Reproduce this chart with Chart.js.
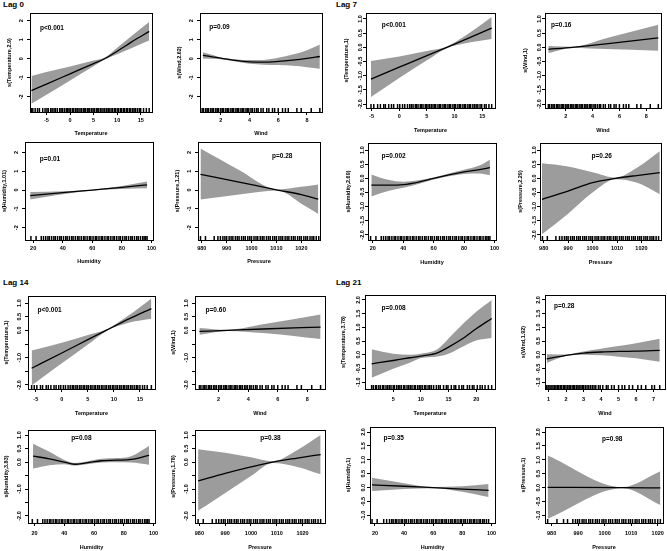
<!DOCTYPE html>
<html>
<head>
<meta charset="utf-8">
<script src="https://cdn.jsdelivr.net/npm/chart.js@4.4.1/dist/chart.umd.min.js"></script>
<style>
  body { margin: 0; background: #fff; width: 667px; height: 551px; position: relative; overflow: hidden; font-family: "Liberation Sans", Arial, sans-serif; }
  canvas { position: absolute; }
  .lag { position: absolute; font-weight: bold; font-size: 8px; line-height: 1; color: #000; }
</style>
</head>
<body>
<div class="lag" style="left:3px;top:1px">Lag 0</div>
<div class="lag" style="left:336px;top:1px">Lag 7</div>
<div class="lag" style="left:3px;top:279px">Lag 14</div>
<div class="lag" style="left:336px;top:279px">Lag 21</div>
<script>
// ---------- axis ticks ----------
const tempTicks = [-5, 0, 5, 10, 15];
const tempTicks21 = [5, 10, 15, 20];
const windTicks = [2, 4, 6, 8];
const windTicks21 = [1, 2, 3, 4, 5, 6, 7];
const humTicks = [20, 40, 60, 80, 100];
const presTicks = [980, 990, 1000, 1010, 1020];

const yTicks0 = [-2, -1, 0, 1, 2];
const yLabels0 = ["-2", "-1", "0", "1", "2"];
const yTicks7 = [-2, -1.5, -1, -0.5, 0, 0.5, 1];
const yLabels7 = ["-2.0", "-1.5", "-1.0", "-0.5", "0.0", "0.5", "1.0"];
const yTicks14 = [-2, -1.5, -1, -0.5, 0, 0.5, 1];
const yLabels14 = ["-2.0", "", "-1.0", "", "0.0", "0.5", "1.0"];
const yTicks21 = [-1, -0.5, 0, 0.5, 1, 1.5, 2];
const yLabels21 = ["-1.0", "-0.5", "0.0", "0.5", "1.0", "1.5", "2.0"];

const xTitles = ["Temperature", "Wind", "Humidity", "Pressure"];
const yTitles0 = ["s(Temperature,2.9)", "s(Wind,2.62)", "s(Humidity,1.01)", "s(Pressure,1.21)"];
const yTitles7 = ["s(Temperature,1)", "s(Wind,1)", "s(Humidity,2.69)", "s(Pressure,2.29)"];
const yTitles14 = ["s(Temperature,1)", "s(Wind,1)", "s(Humidity,3.83)", "s(Pressure,1.78)"];
const yTitles21 = ["s(Temperature,3.78)", "s(Wind,1.92)", "s(Humidity,1)", "s(Pressure,1)"];

const pVals0 = ["p<0.001", "p=0.09", "p=0.01", "p=0.28"];
const pVals7 = ["p<0.001", "p=0.16", "p=0.002", "p=0.26"];
const pVals14 = ["p<0.001", "p=0.60", "p=0.08", "p=0.38"];
const pVals21 = ["p=0.008", "p=0.28", "p=0.35", "p=0.98"];

// ---------- Lag 0 smooths ----------
const temp0X = [-8.2, -5, 0, 5, 7.3, 10, 13, 16.8];
const temp0Fit = [-1.67, -1.33, -0.79, -0.25, 0, 0.4, 0.88, 1.44];
const temp0Hi = [-0.9, -0.7, -0.4, -0.09, 0.05, 0.58, 1.18, 1.93];
const temp0Lo = [-2.37, -1.89, -1.14, -0.39, -0.05, 0.24, 0.56, 0.96];

const wind0X = [0.75, 1.5, 2, 3, 4, 5, 6, 7, 8, 8.9];
const wind0Fit = [0.18, 0.09, 0.03, -0.08, -0.16, -0.18, -0.14, -0.07, 0.02, 0.12];
const wind0Hi = [0.35, 0.18, 0.07, -0.02, -0.07, -0.06, 0.05, 0.22, 0.45, 0.75];
const wind0Lo = [0.02, 0.0, -0.02, -0.14, -0.26, -0.31, -0.33, -0.37, -0.44, -0.52];

const hum0X = [18, 40, 60, 80, 97];
const hum0Fit = [-0.3, -0.14, 0, 0.14, 0.28];
const hum0Hi = [-0.1, -0.06, 0.02, 0.22, 0.45];
const hum0Lo = [-0.5, -0.22, -0.02, 0.06, 0.1];

const pres0X = [979.5, 995, 1010.5, 1020, 1026.8];
const pres0Fit = [0.83, 0.42, 0, -0.24, -0.48];
const pres0Hi = [2.2, 1.06, 0.03, 0.17, 0.3];
const pres0Lo = [-0.5, -0.24, -0.03, -0.72, -1.27];

// ---------- Lag 7 smooths ----------
const temp7X = [-5.1, 0, 5, 8.6, 12, 16.7];
const temp7Fit = [-1.12, -0.7, -0.29, 0, 0.28, 0.68];
const temp7Hi = [-0.48, -0.32, -0.13, 0.03, 0.42, 1.07];
const temp7Lo = [-1.75, -1.08, -0.46, -0.03, 0.14, 0.29];

const wind7X = [0.7, 2.5, 5, 8.9];
const wind7Fit = [-0.07, 0, 0.12, 0.33];
const wind7Hi = [0.05, 0.02, 0.32, 0.8];
const wind7Lo = [-0.2, -0.02, -0.06, -0.12];

const hum7X = [19, 30, 40, 50, 60, 70, 80, 90, 97];
const hum7Fit = [-0.24, -0.24, -0.22, -0.13, 0, 0.12, 0.23, 0.31, 0.38];
const hum7Hi = [0.14, -0.05, -0.12, -0.07, 0.03, 0.17, 0.3, 0.45, 0.66];
const hum7Lo = [-0.64, -0.45, -0.33, -0.2, -0.04, 0.07, 0.15, 0.17, 0.11];

const pres7X = [979.3, 990, 1000, 1009.5, 1018, 1027.5];
const pres7Fit = [-0.74, -0.45, -0.15, 0, 0.1, 0.2];
const pres7Hi = [0.53, 0.42, 0.22, 0.03, 0.37, 0.96];
const pres7Lo = [-1.98, -1.25, -0.5, -0.03, -0.15, -0.56];

// ---------- Lag 14 smooths ----------
const temp14X = [-5.8, 0, 5, 8.5, 13, 17.2];
const temp14Fit = [-1.39, -0.83, -0.34, 0, 0.43, 0.8];
const temp14Hi = [-0.74, -0.45, -0.17, 0.03, 0.57, 1.17];
const temp14Lo = [-2.02, -1.21, -0.52, -0.03, 0.29, 0.43];

const wind14X = [0.7, 2.6, 5, 8.9];
const wind14Fit = [-0.04, 0, 0.05, 0.12];
const wind14Hi = [0.09, 0.02, 0.22, 0.58];
const wind14Lo = [-0.16, -0.02, -0.1, -0.32];

const hum14X = [19, 30, 40, 47, 55, 65, 75, 85, 97];
const hum14Fit = [0.22, 0.12, 0.0, -0.08, -0.03, 0.05, 0.07, 0.1, 0.25];
const hum14Hi = [0.68, 0.38, 0.08, -0.03, 0.02, 0.12, 0.15, 0.22, 0.6];
const hum14Lo = [-0.24, -0.12, -0.08, -0.13, -0.08, -0.02, -0.01, -0.02, -0.1];

const pres14X = [979.5, 990, 1000, 1008.4, 1018, 1027];
const pres14Fit = [-0.7, -0.42, -0.18, 0, 0.15, 0.28];
const pres14Hi = [0.48, 0.35, 0.18, 0.03, 0.45, 1.0];
const pres14Lo = [-1.81, -1.15, -0.52, -0.03, -0.18, -0.45];

// ---------- Lag 21 smooths ----------
const temp21X = [1.1, 5, 8, 10, 13, 15, 18, 20, 22.8];
const temp21Fit = [-0.33, -0.21, -0.11, -0.05, 0.07, 0.28, 0.65, 0.95, 1.32];
const temp21Hi = [0.2, 0.04, 0.0, 0.04, 0.2, 0.59, 1.2, 1.57, 2.0];
const temp21Lo = [-0.84, -0.51, -0.29, -0.12, -0.06, 0.04, 0.34, 0.52, 0.61];

const wind21X = [0.9, 2, 3, 4, 5, 6, 7.35];
const wind21Fit = [-0.15, -0.02, 0.06, 0.1, 0.12, 0.13, 0.16];
const wind21Hi = [0.02, 0.01, 0.12, 0.22, 0.32, 0.42, 0.58];
const wind21Lo = [-0.3, -0.05, 0.0, -0.02, -0.07, -0.13, -0.26];

const hum21X = [18, 40, 60, 80, 98];
const hum21Fit = [0.1, 0.05, 0, -0.05, -0.1];
const hum21Hi = [0.36, 0.16, 0.02, 0.05, 0.13];
const hum21Lo = [-0.12, -0.05, -0.02, -0.15, -0.34];

const pres21X = [978.5, 1006.7, 1021];
const pres21Fit = [0.01, 0, -0.01];
const pres21Hi = [1.16, 0.02, 0.59];
const pres21Lo = [-1.12, -0.02, -0.62];

// ---------- rug (observations) ----------
const tempRug0 = [-8.2, -7.9, -7.4, -6.9, -6.5, -5.8, -5.3, -4.9, -4.6, -4.1, -3.8, -3.4, -3.1, -2.7, -2.2, -1.9, -1.6, -1.2, -0.8, -0.5, -0.2, 0.1, 0.5, 0.8, 1.2, 1.5, 1.7, 2.1, 2.4, 2.8, 3.0, 3.3, 3.7, 4.0, 4.2, 4.6, 4.9, 5.2, 5.6, 5.9, 6.1, 6.5, 6.8, 7.2, 7.4, 7.8, 8.1, 8.3, 8.7, 9.0, 9.4, 9.6, 10.0, 10.3, 10.7, 10.9, 11.3, 11.6, 12.0, 12.2, 12.6, 12.9, 13.3, 13.6, 13.9, 14.3, 14.7, 15.0, 15.6, 16.2, 16.8];
const tempRug7 = [-5.1, -4.6, -3.9, -3.4, -2.8, -2.5, -1.9, -1.4, -1.0, -0.3, 0.1, 0.6, 1.0, 1.5, 1.9, 2.2, 2.5, 2.9, 3.1, 3.4, 3.8, 4.0, 4.3, 4.7, 4.9, 5.2, 5.5, 5.8, 6.1, 6.4, 6.6, 7.0, 7.3, 7.5, 7.9, 8.2, 8.4, 8.8, 9.1, 9.3, 9.7, 10.0, 10.2, 10.6, 10.9, 11.1, 11.5, 11.8, 12.0, 12.4, 12.7, 12.9, 13.3, 13.6, 13.9, 14.2, 14.6, 14.9, 15.4, 15.7, 16.2, 16.7];
const tempRug14 = [-5.8, -5.3, -4.8, -4.1, -3.7, -3.0, -2.6, -2.1, -1.5, -1.1, -0.6, -0.2, 0.3, 0.7, 1.2, 1.6, 2.0, 2.3, 2.7, 3.0, 3.4, 3.7, 4.1, 4.4, 4.8, 5.1, 5.5, 5.8, 6.2, 6.5, 6.9, 7.2, 7.6, 7.9, 8.3, 8.6, 9.0, 9.3, 9.7, 10.0, 10.4, 10.7, 11.1, 11.4, 11.8, 12.1, 12.5, 12.8, 13.2, 13.5, 13.9, 14.3, 14.6, 15.0, 15.5, 15.9, 16.4, 17.2];
const tempRug21 = [1.1, 1.4, 1.8, 2.0, 2.4, 2.7, 3.1, 3.3, 3.7, 4.0, 4.3, 4.6, 5.0, 5.2, 5.6, 5.9, 6.2, 6.5, 6.9, 7.1, 7.5, 7.8, 8.1, 8.4, 8.8, 9.0, 9.4, 9.7, 10.0, 10.3, 10.7, 10.9, 11.3, 11.6, 11.9, 12.3, 12.8, 13.2, 13.5, 14.1, 14.6, 14.9, 15.5, 16.0, 16.3, 16.9, 17.4, 17.7, 18.4, 18.8, 19.3, 19.6, 20.2, 20.7, 21.1, 21.6, 22.2, 22.8];
const windRug = [0.7, 0.8, 0.95, 1.05, 1.15, 1.3, 1.4, 1.5, 1.65, 1.75, 1.85, 2.0, 2.1, 2.2, 2.35, 2.45, 2.55, 2.7, 2.8, 2.9, 3.05, 3.15, 3.25, 3.4, 3.5, 3.6, 3.75, 3.85, 3.95, 4.1, 4.2, 4.35, 4.5, 4.6, 4.8, 4.95, 5.2, 5.35, 5.6, 5.75, 6.0, 6.3, 6.5, 6.7, 7.3, 7.6, 8.3, 8.9];
const windRug21 = [0.9, 0.98, 1.08, 1.15, 1.25, 1.33, 1.42, 1.5, 1.58, 1.67, 1.75, 1.85, 1.92, 2.0, 2.1, 2.18, 2.25, 2.35, 2.43, 2.5, 2.6, 2.68, 2.75, 2.85, 2.93, 3.0, 3.1, 3.2, 3.3, 3.4, 3.5, 3.6, 3.7, 3.85, 3.95, 4.1, 4.3, 4.4, 4.6, 4.75, 5.0, 5.2, 5.35, 5.6, 5.8, 6.1, 6.3, 6.55, 6.9, 7.05, 7.35];
const humRug = [18.5, 22, 25.5, 27, 28.5, 30, 31, 32.5, 34, 35, 36.5, 38, 39, 40.5, 42, 43, 44.5, 46, 47, 48.5, 50, 51, 52.5, 54, 55, 56.5, 58, 59, 60.5, 62, 63, 64.5, 66, 67, 68.5, 70, 71, 72.5, 74, 75, 76.5, 78, 79, 80.5, 82, 83, 84.5, 86, 87, 88.5, 90, 91, 92.5, 94, 95, 96, 97];
const humRug21 = [18, 21.5, 26, 28, 30, 31.5, 32.5, 34, 35, 36.5, 38, 39, 40.5, 41.5, 43, 44.5, 45.5, 47, 48.5, 49.5, 51, 52, 53.5, 55, 56, 57.5, 59, 60, 61.5, 62.5, 64, 65.5, 66.5, 68, 69, 70.5, 72, 73, 74.5, 75.5, 77, 78.5, 79.5, 81, 82, 83.5, 85, 86, 87.5, 88.5, 90, 91.5, 92.5, 94, 95, 96.5, 98];
const presRug = [979.5, 981.5, 985, 986.5, 987.5, 988.5, 989.3, 990, 991, 991.8, 992.5, 993.5, 994.3, 995, 996, 996.8, 997.5, 998.5, 999.3, 1000, 1001, 1001.8, 1002.5, 1003.5, 1004.3, 1005, 1006, 1006.8, 1007.5, 1008.5, 1009.3, 1010, 1011, 1011.8, 1012.5, 1013.5, 1014.3, 1015, 1016, 1016.8, 1017.5, 1018.5, 1019.3, 1020, 1021, 1021.8, 1022.5, 1023.5, 1024.3, 1025, 1026, 1027];
const presRug21 = [978.5, 982, 984.5, 986, 988, 989, 989.8, 990.5, 991.5, 992.2, 993, 994, 994.7, 995.5, 996.5, 997.2, 998, 999, 999.7, 1000.5, 1001.5, 1002.2, 1003, 1004, 1004.7, 1005.5, 1006.5, 1007.2, 1008, 1009, 1009.7, 1010.5, 1011.5, 1012.2, 1013, 1014, 1014.7, 1015.5, 1016.5, 1017.2, 1018, 1019, 1020, 1021];

// ---------- layout ----------
const FONT = '"Liberation Sans", Arial, sans-serif';
const BAND = "#9c9c9c";
const YW = 30, PT = 10, PR = 10, XH = 30;

Chart.defaults.font.family = FONT;
Chart.defaults.color = "#000";

const groups = [
  {
    yTicks: yTicks0, yLabels: yLabels0, yTickPad: 3.3, yTitleGap: 21, xTickPad: 1.7, xTitlePad: 5.7,
    panels: [
      { box: [30, 13, 152, 112], xr: [-8.5, 17.4], yr: [-2.8, 2.41], xt: tempTicks, x: temp0X, fit: temp0Fit, hi: temp0Hi, lo: temp0Lo, rug: tempRug0, pp: [0.18, 0.15] },
      { box: [200, 13, 322, 112], xr: [0.55, 9.05], yr: [-2.8, 2.41], xt: windTicks, x: wind0X, fit: wind0Fit, hi: wind0Hi, lo: wind0Lo, rug: windRug, pp: [0.16, 0.14] },
      { box: [25, 142, 153, 240], xr: [14.5, 101], yr: [-2.65, 2.55], xt: humTicks, x: hum0X, fit: hum0Fit, hi: hum0Hi, lo: hum0Lo, rug: humRug, pp: [0.195, 0.18] },
      { box: [198, 142, 320, 240], xr: [978.5, 1027.5], yr: [-2.65, 2.55], xt: presTicks, x: pres0X, fit: pres0Fit, hi: pres0Hi, lo: pres0Lo, rug: presRug, pp: [0.69, 0.15] }
    ], yTitles: yTitles0, pVals: pVals0
  },
  {
    yTicks: yTicks7, yLabels: yLabels7, yTickPad: -2.7, yTitleGap: 20, xTickPad: 2.1, xTitlePad: 4.0,
    panels: [
      { box: [366, 13, 495, 108], xr: [-6.0, 17.3], yr: [-2.14, 1.21], xt: tempTicks, x: temp7X, fit: temp7Fit, hi: temp7Hi, lo: temp7Lo, rug: tempRug7, pp: [0.215, 0.13] },
      { box: [545, 13, 661, 108], xr: [0.45, 9.1], yr: [-2.14, 1.21], xt: windTicks, x: wind7X, fit: wind7Fit, hi: wind7Hi, lo: wind7Lo, rug: windRug, pp: [0.14, 0.13] },
      { box: [368, 143, 496, 240], xr: [16.8, 101], yr: [-2.18, 1.25], xt: humTicks, x: hum7X, fit: hum7Fit, hi: hum7Hi, lo: hum7Lo, rug: humRug, pp: [0.2, 0.14] },
      { box: [540, 143, 661, 240], xr: [978.5, 1028], yr: [-2.18, 1.25], xt: presTicks, x: pres7X, fit: pres7Fit, hi: pres7Hi, lo: pres7Lo, rug: presRug, pp: [0.51, 0.14] }
    ], yTitles: yTitles7, pVals: pVals7
  },
  {
    yTicks: yTicks14, yLabels: yLabels14, yTickPad: 0.3, yTitleGap: 21.5, xTickPad: 4.5, xTitlePad: 2.7,
    panels: [
      { box: [28, 296, 155, 389], xr: [-6.5, 17.9], yr: [-2.15, 1.26], xt: tempTicks, x: temp14X, fit: temp14Fit, hi: temp14Hi, lo: temp14Lo, rug: tempRug14, pp: [0.17, 0.15] },
      { box: [195, 296, 325, 389], xr: [0.4, 9.2], yr: [-2.15, 1.26], xt: windTicks, x: wind14X, fit: wind14Fit, hi: wind14Hi, lo: wind14Lo, rug: windRug, pp: [0.16, 0.15] },
      { box: [28, 430, 155, 523], xr: [15.6, 101], yr: [-2.26, 1.19], xt: humTicks, x: hum14X, fit: hum14Fit, hi: hum14Hi, lo: hum14Lo, rug: humRug, pp: [0.42, 0.09] },
      { box: [195, 430, 325, 523], xr: [978.3, 1028.7], yr: [-2.26, 1.19], xt: presTicks, x: pres14X, fit: pres14Fit, hi: pres14Hi, lo: pres14Lo, rug: presRug, pp: [0.58, 0.09] }
    ], yTitles: yTitles14, pVals: pVals14
  },
  {
    yTicks: yTicks21, yLabels: yLabels21, yTickPad: -1.7, yTitleGap: 22, xTickPad: 4.2, xTitlePad: 2.2,
    panels: [
      { box: [365, 295, 495, 389], xr: [-0.1, 23.4], yr: [-1.25, 2.18], xt: tempTicks21, x: temp21X, fit: temp21Fit, hi: temp21Hi, lo: temp21Lo, rug: tempRug21, pp: [0.22, 0.14] },
      { box: [545, 295, 665, 389], xr: [0.8, 7.65], yr: [-1.25, 2.18], xt: windTicks21, x: wind21X, fit: wind21Fit, hi: wind21Hi, lo: wind21Lo, rug: windRug21, pp: [0.16, 0.12] },
      { box: [370, 427, 495, 523], xr: [16.6, 102.4], yr: [-1.27, 2.18], xt: humTicks, x: hum21X, fit: hum21Fit, hi: hum21Hi, lo: hum21Lo, rug: humRug21, pp: [0.19, 0.12] },
      { box: [545, 427, 663, 523], xr: [977.5, 1022], yr: [-1.27, 2.18], xt: presTicks, x: pres21X, fit: pres21Fit, hi: pres21Hi, lo: pres21Lo, rug: presRug21, pp: [0.57, 0.13] }
    ], yTitles: yTitles21, pVals: pVals21
  }
];

// box around the plot region + p-value text
const frame = {
  id: "frame",
  afterDraw(chart, args, o) {
    const { ctx, chartArea: a } = chart;
    ctx.save();
    ctx.strokeStyle = "#000";
    ctx.lineWidth = 1;
    ctx.strokeRect(a.left + 0.5, a.top + 0.5, a.right - a.left, a.bottom - a.top);
    ctx.font = "bold 6.5px " + FONT;
    ctx.fillStyle = "#000";
    ctx.textAlign = "center";
    ctx.textBaseline = "middle";
    ctx.fillText(o.text, a.left + o.fx * (a.right - a.left), a.top + o.fy * (a.bottom - a.top));
    ctx.restore();
  }
};

function drawPanel(g, k) {
  const p = g.panels[k];
  const [L, T, R, B] = p.box;
  const cv = document.createElement("canvas");
  cv.width = R - L + YW + PR;
  cv.height = B - T + PT + XH;
  cv.style.left = (L - YW) + "px";
  cv.style.top = (T - PT) + "px";
  document.body.appendChild(cv);

  const pts = ys => p.x.map((x, i) => ({ x: x, y: ys[i] }));
  const small = { size: 5.5, weight: "bold" };
  const tickGrid = { display: true, drawOnChartArea: false, drawTicks: true, tickLength: 3, color: "#000", lineWidth: 1 };

  new Chart(cv, {
    type: "line",
    data: {
      datasets: [
        { data: pts(p.hi), fill: "+1", backgroundColor: BAND, borderColor: "rgba(0,0,0,0)", borderWidth: 0, pointRadius: 0, cubicInterpolationMode: "monotone", order: 3 },
        { data: pts(p.lo), fill: false, borderColor: "rgba(0,0,0,0)", borderWidth: 0, pointRadius: 0, cubicInterpolationMode: "monotone", order: 4 },
        { data: pts(p.fit), fill: false, borderColor: "#000", borderWidth: 1.3, pointRadius: 0, cubicInterpolationMode: "monotone", order: 0 },
        { data: p.rug.map(x => ({ x: x, y: p.yr[0] })), showLine: false, pointStyle: "line", pointRotation: 90,
          pointRadius: 4, pointBorderColor: "#000", pointBorderWidth: 1.5, borderColor: "#000", clip: 0, order: 1 }
      ]
    },
    options: {
      responsive: false,
      animation: false,
      events: [],
      layout: { padding: { left: 0, top: PT, right: PR, bottom: 0 } },
      plugins: {
        legend: { display: false },
        tooltip: { enabled: false },
        filler: { drawTime: "beforeDatasetsDraw" },
        frame: { text: g.pVals[k], fx: p.pp[0], fy: p.pp[1] }
      },
      scales: {
        x: {
          type: "linear", min: p.xr[0], max: p.xr[1],
          afterBuildTicks: s => { s.ticks = p.xt.map(v => ({ value: v })); },
          afterFit: s => { s.height = XH; },
          grid: tickGrid,
          border: { display: false },
          ticks: { font: small, padding: g.xTickPad, maxRotation: 0, autoSkip: false, color: "#000", callback: v => String(v) },
          title: { display: true, text: xTitles[k], font: small, color: "#000", padding: { top: 0, bottom: g.xTitlePad } }
        },
        y: {
          type: "linear", min: p.yr[0], max: p.yr[1],
          afterBuildTicks: s => { s.ticks = g.yTicks.map(v => ({ value: v })); },
          afterFit: s => { s.width = YW; },
          grid: tickGrid,
          border: { display: false },
          ticks: { font: small, padding: g.yTickPad, minRotation: 90, maxRotation: 90, crossAlign: "center",
                   autoSkip: false, color: "#000", callback: (v, i) => g.yLabels[i] },
          title: { display: true, text: g.yTitles[k], font: { size: 5.5, weight: "bold" }, color: "#000",
                   padding: { top: YW - g.yTitleGap - 3.3, bottom: 0 } }
        }
      }
    },
    plugins: [frame]
  });
}

groups.forEach(g => g.panels.forEach((p, k) => drawPanel(g, k)));
</script>
</body>
</html>
